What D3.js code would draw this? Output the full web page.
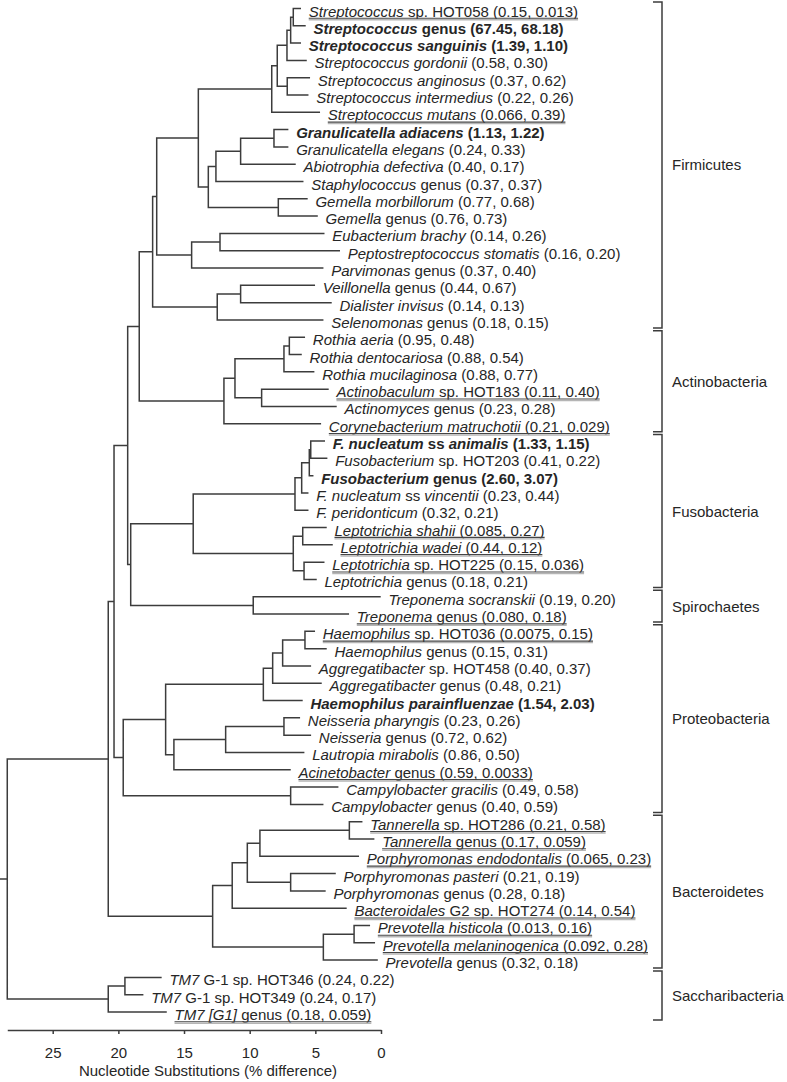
<!DOCTYPE html>
<html><head><meta charset="utf-8">
<script src="https://cdn.jsdelivr.net/npm/d3@7"></script>
<style>
body{margin:0;background:#fff}
svg{display:block}
text{font-family:"Liberation Sans",Arial,Helvetica,sans-serif}
</style>
</head><body>
<svg id="c" width="787" height="1082"></svg>
<script>
// ---- leaf labels (italic parts between *) ----
const leafNames = [
 "*Streptococcus* sp. HOT058","*Streptococcus* genus","*Streptococcus sanguinis*","*Streptococcus gordonii*",
 "*Streptococcus anginosus*","*Streptococcus intermedius*","*Streptococcus mutans*","*Granulicatella adiacens*",
 "*Granulicatella elegans*","*Abiotrophia defectiva*","*Staphylococcus* genus","*Gemella morbillorum*",
 "*Gemella* genus","*Eubacterium brachy*","*Peptostreptococcus stomatis*","*Parvimonas* genus",
 "*Veillonella* genus","*Dialister invisus*","*Selenomonas* genus","*Rothia aeria*",
 "*Rothia dentocariosa*","*Rothia mucilaginosa*","*Actinobaculum* sp. HOT183","*Actinomyces* genus",
 "*Corynebacterium matruchotii*","*F. nucleatum* ss *animalis*","*Fusobacterium* sp. HOT203","*Fusobacterium* genus",
 "*F. nucleatum* ss *vincentii*","*F. peridonticum*","*Leptotrichia shahii*","*Leptotrichia wadei*",
 "*Leptotrichia* sp. HOT225","*Leptotrichia* genus","*Treponema socranskii*","*Treponema* genus",
 "*Haemophilus* sp. HOT036","*Haemophilus* genus","*Aggregatibacter* sp. HOT458","*Aggregatibacter* genus",
 "*Haemophilus parainfluenzae*","*Neisseria pharyngis*","*Neisseria* genus","*Lautropia mirabolis*",
 "*Acinetobacter* genus","*Campylobacter gracilis*","*Campylobacter* genus","*Tannerella* sp. HOT286",
 "*Tannerella* genus","*Porphyromonas endodontalis*","*Porphyromonas pasteri*","*Porphyromonas* genus",
 "*Bacteroidales* G2 sp. HOT274","*Prevotella histicola*","*Prevotella melaninogenica*","*Prevotella* genus",
 "*TM7* G-1 sp. HOT346","*TM7* G-1 sp. HOT349","*TM7 [G1]* genus"
];
// ---- the two values shown in parentheses ----
const valA = ["0.15","67.45","1.39","0.58","0.37","0.22","0.066","1.13","0.24","0.40","0.37","0.77","0.76","0.14","0.16","0.37","0.44","0.14","0.18","0.95","0.88","0.88","0.11","0.23","0.21","1.33","0.41","2.60","0.23","0.32","0.085","0.44","0.15","0.18","0.19","0.080","0.0075","0.15","0.40","0.48","1.54","0.23","0.72","0.86","0.59","0.49","0.40","0.21","0.17","0.065","0.21","0.28","0.14","0.013","0.092","0.32","0.24","0.24","0.18"];
const valB = ["0.013","68.18","1.10","0.30","0.62","0.26","0.39","1.22","0.33","0.17","0.37","0.68","0.73","0.26","0.20","0.40","0.67","0.13","0.15","0.48","0.54","0.77","0.40","0.28","0.029","1.15","0.22","3.07","0.44","0.21","0.27","0.12","0.036","0.21","0.20","0.18","0.15","0.31","0.37","0.21","2.03","0.26","0.62","0.50","0.0033","0.58","0.59","0.58","0.059","0.23","0.19","0.18","0.54","0.16","0.28","0.18","0.22","0.17","0.059"];
const boldLeaves = [2,3,8,26,28,41];
const underlinedLeaves = [1,7,23,25,31,32,33,36,37,45,48,49,50,53,54,55,59];
// ---- leaf tip positions (% difference) ----
const leafTip = [6.15,5.79,6.15,5.71,5.46,5.58,4.70,7.11,7.11,6.55,5.96,5.64,4.87,4.36,3.18,4.44,5.08,3.81,4.44,5.84,
 6.09,5.13,4.04,3.43,4.62,4.32,4.14,5.20,5.58,5.58,4.19,3.73,4.36,4.95,0.08,2.49,5.08,4.19,5.38,4.57,
 6.02,6.22,5.38,5.89,6.93,3.30,4.44,1.47,0.56,1.73,3.50,4.27,2.67,0.89,0.51,0.30,16.76,18.15,16.37];
// ---- topology: N(node position in % difference, child, child); numbers = leaf index (1-based) ----
const N = (pos, a, b) => ({pos, kids:[a,b]});
const firmicutes = N(17.39,
  N(17.08,
    N(13.91,
      N(8.32, N(7.90, N(7.16, N(6.88, N(6.68,1,2),3),4), N(7.14,5,6)), 7),
      N(13.15, N(12.57, N(10.69, N(8.15,8,9),10),11), N(7.82,12,13))),
    N(14.42, N(12.26,14,15),16)),
  N(12.47, N(10.69,17,18),19));
const actinobacteria = N(11.96, N(11.12, N(7.39, N(6.98,20,21),22), N(9.09,23,24)), 25);
const fusobacteria = N(14.30, N(6.55, N(6.04, N(5.46, N(5.35,26,27),28),29),30), N(6.68, N(5.96,31,32), N(5.86,33,34)));
const spirochaetes = N(9.73,35,36);
const proteobacteria = N(19.63,
  N(16.40, N(8.96, N(8.25, N(7.49, N(5.79,37,38),39),40),41), N(15.77, N(11.83, N(7.39,42,43),44),45)),
  N(6.88,46,47));
const bacteroidetes = N(12.82, N(11.33, N(10.18, N(9.22, N(2.41,48,49),50), N(6.88,51,52)),53), N(4.39, N(2.05,54,55),56));
const saccharibacteria = N(20.77, N(19.50,57,58),59);
const treeRoot = N(28.46,
  N(20.77, N(20.33, N(19.29, N(18.41, firmicutes, actinobacteria), N(19.06, fusobacteria, spirochaetes)), proteobacteria), bacteroidetes),
  saccharibacteria);
// ---- phylum brackets ----
const groupNames = ["Firmicutes","Actinobacteria","Fusobacteria","Spirochaetes","Proteobacteria","Bacteroidetes","Saccharibacteria"];
const groupFirst = [1,20,26,35,37,48,57];
const groupLast  = [19,25,34,36,47,56,59];
const axisTicks = [25,20,15,10,5,0];
const axisTitle = "Nucleotide Substitutions (% difference)";

const root = d3.hierarchy(treeRoot, d => d.kids ? d.kids.map(k => typeof k === "number" ? {leaf:k-1, pos:leafTip[k-1]} : k) : null);

const LINE="#3c3c3c", TXT="#262626";
const x = d3.scaleLinear().domain([25,0]).range([52.7,381]);
const y = d3.scaleLinear().domain([0,58]).range([8.5,1012]);

root.eachAfter(n=>{
  if(n.children){ n.yy=(n.children[0].yy+n.children[n.children.length-1].yy)/2; }
  else n.yy=y(n.data.leaf);
});

const svg=d3.select("#c");
const g=svg.append("g");
const segs=[];
root.each(n=>{
  const xn=x(n.data.pos);
  if(n.parent) segs.push(`M${x(n.parent.data.pos)},${n.yy}H${xn}`);
  else segs.push(`M0,${n.yy}H${xn}`);
  if(n.children) segs.push(`M${xn},${n.children[0].yy}V${n.children[n.children.length-1].yy}`);
});
g.append("path").attr("d",segs.join("")).attr("fill","none").attr("stroke",LINE)
 .attr("stroke-width",1.5).attr("stroke-linecap","square");

root.leaves().forEach(n=>{
  const k=n.data.leaf;
  const bold=boldLeaves.includes(k+1);
  const x0=x(leafTip[k])+8.5;
  const t=g.append("text").attr("x",x0).attr("y",n.yy+8)
    .attr("font-size",15).attr("fill",TXT).attr("font-weight",bold?"bold":"normal");
  leafNames[k].split("*").forEach((p,j)=>{
    if(p.length) t.append("tspan").attr("font-style",j%2?"italic":"normal").text(p);
  });
  t.append("tspan").text(" ("+valA[k]+", "+valB[k]+")");
  if(underlinedLeaves.includes(k+1)){
    const x1=x0+t.node().getComputedTextLength();
    g.append("line").attr("x1",x0).attr("x2",x1).attr("y1",n.yy+9.8).attr("y2",n.yy+9.8)
      .attr("stroke","#444").attr("stroke-width",1.1);
    g.append("line").attr("x1",x0).attr("x2",x1).attr("y1",n.yy+11.3).attr("y2",n.yy+11.3)
      .attr("stroke","#b5b5b5").attr("stroke-width",1.4);
  }
});

const bx=662;
groupNames.forEach((name,i)=>{
  const top=y(groupFirst[i]-1)-6.5, bot=y(groupLast[i]-1)+8;
  g.append("path").attr("d",`M${bx-9},${top}H${bx}V${bot}H${bx-9}`)
    .attr("fill","none").attr("stroke",LINE).attr("stroke-width",1.5);
  g.append("text").attr("x",bx+10).attr("y",(top+bot)/2+5.5).attr("font-size",15)
    .attr("fill",TXT).text(name);
});

const rootPos=treeRoot.pos;
const ax=d3.scaleLinear().domain([rootPos,0]).range([x(rootPos),x(0)]);
const axisG=svg.append("g").attr("transform","translate(0,1030)")
  .call(d3.axisBottom(ax).tickValues(axisTicks).tickSizeInner(4).tickSizeOuter(0).tickPadding(13).tickFormat(d3.format("d")));
axisG.select(".domain").attr("stroke",LINE).attr("stroke-width",1.5);
axisG.selectAll(".tick line").attr("stroke",LINE).attr("stroke-width",1.5);
axisG.selectAll(".tick text").attr("font-size",15).attr("fill",TXT).attr("font-family","Liberation Sans, Arial, sans-serif");
svg.append("text").attr("x",208).attr("y",1076).attr("text-anchor","middle").attr("font-size",15)
  .attr("fill",TXT).text(axisTitle);
</script>
</body></html>
